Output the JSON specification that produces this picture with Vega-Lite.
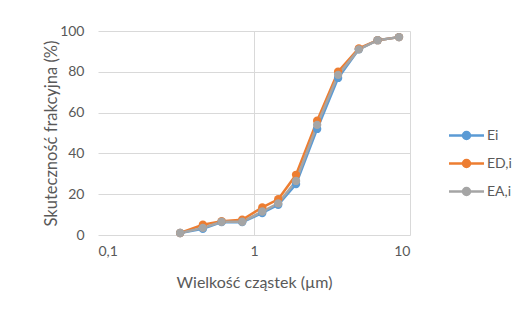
{
  "$schema": "https://vega.github.io/schema/vega-lite/v6.json",
  "width": 312,
  "height": 204,
  "autosize": {"type": "none"},
  "padding": {"left": 98, "top": 31, "right": 115, "bottom": 74},
  "background": "white",
  "config": {
    "font": "Lato",
    "view": {"stroke": null},
    "axis": {"labelColor": "#595959", "titleColor": "#595959", "labelFont": "Lato", "titleFont": "Lato", "titleFontWeight": "normal", "gridColor": "#d9d9d9", "domainColor": "#d9d9d9", "ticks": false}
  },
  "data": {
    "values": [
      {"x": 0.336, "E": 1, "s": "Ei"},
      {"x": 0.47, "E": 3, "s": "Ei"},
      {"x": 0.62, "E": 6.3, "s": "Ei"},
      {"x": 0.84, "E": 6.3, "s": "Ei"},
      {"x": 1.13, "E": 10.8, "s": "Ei"},
      {"x": 1.43, "E": 14.8, "s": "Ei"},
      {"x": 1.86, "E": 25, "s": "Ei"},
      {"x": 2.54, "E": 52, "s": "Ei"},
      {"x": 3.46, "E": 77, "s": "Ei"},
      {"x": 4.7, "E": 91, "s": "Ei"},
      {"x": 6.2, "E": 95.5, "s": "Ei"},
      {"x": 8.5, "E": 97, "s": "Ei"},
      {"x": 0.336, "E": 1, "s": "ED,i"},
      {"x": 0.47, "E": 5, "s": "ED,i"},
      {"x": 0.62, "E": 6.8, "s": "ED,i"},
      {"x": 0.84, "E": 7.5, "s": "ED,i"},
      {"x": 1.13, "E": 13.5, "s": "ED,i"},
      {"x": 1.43, "E": 17.5, "s": "ED,i"},
      {"x": 1.86, "E": 29.5, "s": "ED,i"},
      {"x": 2.54, "E": 56, "s": "ED,i"},
      {"x": 3.46, "E": 80, "s": "ED,i"},
      {"x": 4.7, "E": 91.5, "s": "ED,i"},
      {"x": 6.2, "E": 95.5, "s": "ED,i"},
      {"x": 8.5, "E": 97, "s": "ED,i"},
      {"x": 0.336, "E": 1, "s": "EA,i"},
      {"x": 0.47, "E": 3.5, "s": "EA,i"},
      {"x": 0.62, "E": 6.5, "s": "EA,i"},
      {"x": 0.84, "E": 6.5, "s": "EA,i"},
      {"x": 1.13, "E": 11.5, "s": "EA,i"},
      {"x": 1.43, "E": 15.5, "s": "EA,i"},
      {"x": 1.86, "E": 26.5, "s": "EA,i"},
      {"x": 2.54, "E": 54, "s": "EA,i"},
      {"x": 3.46, "E": 78.5, "s": "EA,i"},
      {"x": 4.7, "E": 91, "s": "EA,i"},
      {"x": 6.2, "E": 95.5, "s": "EA,i"},
      {"x": 8.5, "E": 97, "s": "EA,i"}
    ]
  },
  "encoding": {
    "x": {
      "field": "x", "type": "quantitative",
      "scale": {"type": "log", "domain": [0.1, 10]},
      "axis": {"values": [0.1, 1, 10], "labelExpr": "replace(format(datum.value, ''), '.', ',')", "title": "Wielkość cząstek (µm)", "titleFontSize": 16, "labelFontSize": 14, "labelPadding": 9, "titlePadding": 16, "domain": false, "grid": true, "gridOpacity": {"condition": {"test": "datum.value < 0.5", "value": 0}, "value": 1}}
    },
    "y": {
      "field": "E", "type": "quantitative",
      "scale": {"domain": [0, 100]},
      "axis": {"values": [0, 20, 40, 60, 80, 100], "title": "Skuteczność frakcyjna (%)", "titleFontSize": 16.5, "labelFontSize": 14, "labelPadding": 14, "titlePadding": 0, "domain": false}
    },
    "color": {
      "field": "s", "type": "nominal",
      "scale": {"domain": ["Ei", "ED,i", "EA,i"], "range": ["#5B9BD5", "#ED7D31", "#A5A5A5"]},
      "legend": {
        "title": null, "orient": "none", "legendX": 357, "legendY": 93, "padding": 0,
        "symbolType": "M-1.75,0L1.75,0M0.35,0A0.35,0.35,0,1,1,-0.35,0A0.35,0.35,0,1,1,0.35,0Z",
        "symbolSize": 400, "symbolStrokeWidth": 2.5, "rowPadding": 8,
        "labelFontSize": 14, "labelColor": "#595959", "labelOffset": 9,
        "encode": {"symbols": {"update": {"fill": {"scale": "color", "field": "value"}, "stroke": {"scale": "color", "field": "value"}, "opacity": {"value": 1}}}}
      }
    }
  },
  "layer": [
    {"mark": {"type": "line", "strokeWidth": 2.5}},
    {"mark": {"type": "circle", "size": 70, "opacity": 1}, "encoding": {"color": {"field": "s", "type": "nominal", "legend": null}}}
  ]
}
